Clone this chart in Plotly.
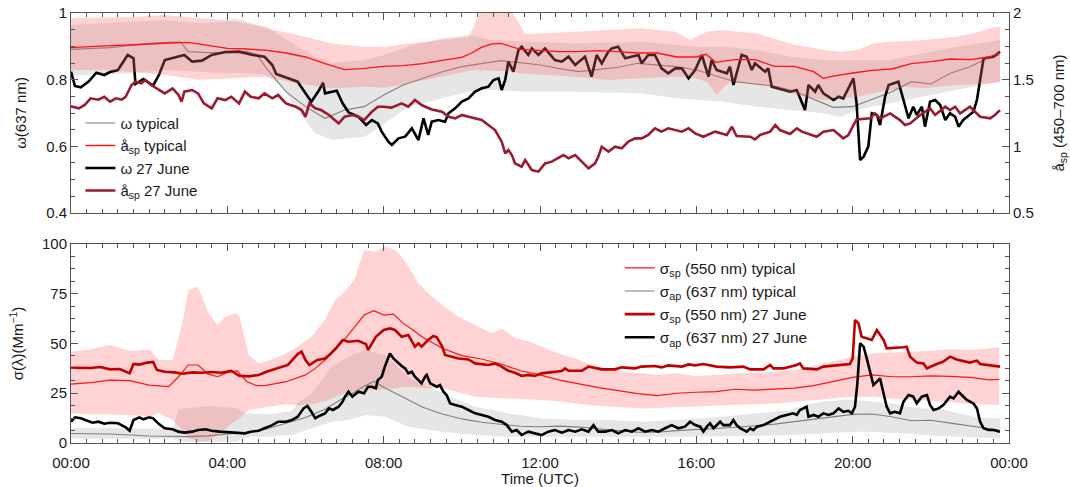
import plotly.graph_objects as go

# ---------------- DATA (hours UTC) ----------------
x_tickvals = [0, 4, 8, 12, 16, 20, 24]
x_ticktext = ["00:00", "04:00", "08:00", "12:00", "16:00", "20:00", "00:00"]

# ---- top panel: single scattering albedo (left) and scattering Angstrom exponent (right)
omega_typ_t = [0, 0.5, 1, 1.5, 2, 2.5, 2.8, 3, 3.5, 4,
               4.5, 4.75, 5, 5.5, 6, 6.5, 7, 7.5, 8, 8.5,
               9, 9.5, 10, 10.5, 11, 11.5, 12, 12.5, 13, 13.5,
               14, 14.5, 15, 15.5, 16, 16.5, 17, 17.5, 18, 18.5,
               19, 19.5, 20, 20.5, 21, 21.5, 22, 22.5, 23, 23.5,
               23.75]
omega_typ = [0.891, 0.893, 0.896, 0.903, 0.909, 0.912, 0.913, 0.884, 0.881, 0.881,
             0.884, 0.876, 0.834, 0.764, 0.719, 0.684, 0.709, 0.719, 0.754, 0.784,
             0.804, 0.824, 0.839, 0.847, 0.857, 0.851, 0.844, 0.833, 0.824, 0.831,
             0.837, 0.849, 0.844, 0.839, 0.829, 0.811, 0.794, 0.787, 0.781, 0.766,
             0.741, 0.717, 0.719, 0.741, 0.764, 0.794, 0.787, 0.819, 0.839, 0.867,
             0.874]

asp_typ_t = [0, 0.5, 1, 1.5, 2, 2.5, 3, 3.5, 4, 4.5,
             5, 5.5, 6, 6.5, 7, 7.5, 8, 8.5, 9, 9.5,
             10, 10.25, 10.5, 10.75, 11, 11.5, 12, 12.5, 13, 13.5,
             14, 14.5, 15, 15.5, 16, 16.25, 16.5, 17, 17.5, 18,
             18.5, 19, 19.25, 19.5, 20, 20.5, 21, 21.5, 22, 22.5,
             23, 23.5, 23.75]
asp_typ = [1.740, 1.750, 1.755, 1.760, 1.770, 1.775, 1.780, 1.760, 1.735, 1.730,
           1.720, 1.700, 1.670, 1.620, 1.575, 1.585, 1.600, 1.605, 1.620, 1.645,
           1.667, 1.700, 1.742, 1.767, 1.772, 1.727, 1.720, 1.710, 1.710, 1.718,
           1.710, 1.700, 1.700, 1.670, 1.670, 1.690, 1.630, 1.650, 1.650, 1.600,
           1.600, 1.560, 1.510, 1.527, 1.550, 1.570, 1.580, 1.620, 1.635, 1.655,
           1.650, 1.670, 1.700]

omega_jun_t = [0, 0.1, 0.25, 0.45, 0.65, 0.85, 1.0, 1.2, 1.45, 1.6,
               1.65, 1.85, 2.1, 2.25, 2.4, 2.75, 2.9, 3.1, 3.35, 3.6,
               3.95, 4.3, 4.65, 4.95, 5.15, 5.25, 5.55, 5.8, 6.0, 6.15,
               6.35, 6.45, 6.5, 6.8, 6.95, 7.1, 7.35, 7.55, 7.7, 7.85,
               7.95, 8.12, 8.21, 8.38, 8.55, 8.72, 8.89, 9.02, 9.14, 9.23,
               9.4, 9.57, 9.66, 9.83, 10.0, 10.17, 10.34, 10.51, 10.68, 10.81,
               10.94, 11.02, 11.11, 11.19, 11.32, 11.45, 11.53, 11.7, 11.79, 11.96,
               12.13, 12.38, 12.56, 12.73, 12.9, 13.15, 13.32, 13.45, 13.58, 13.75,
               13.84, 14.0, 14.18, 14.35, 14.52, 14.6, 14.77, 14.94, 15.11, 15.28,
               15.46, 15.63, 15.8, 15.97, 16.14, 16.31, 16.39, 16.52, 16.78, 16.86,
               16.95, 17.16, 17.29, 17.42, 17.5, 17.76, 17.84, 17.93, 18.23, 18.4,
               18.57, 18.78, 18.87, 19.04, 19.12, 19.25, 19.51, 19.64, 19.76, 19.89,
               20.02, 20.1, 20.19, 20.28, 20.4, 20.49, 20.62, 20.7, 20.83, 20.92,
               21.17, 21.3, 21.43, 21.55, 21.64, 21.77, 21.85, 21.98, 22.11, 22.24,
               22.37, 22.49, 22.62, 22.71, 22.83, 23.09, 23.18, 23.26, 23.35, 23.6,
               23.77]
omega_jun = [0.824, 0.781, 0.777, 0.794, 0.821, 0.814, 0.823, 0.829, 0.874, 0.864,
             0.787, 0.802, 0.782, 0.814, 0.859, 0.869, 0.874, 0.854, 0.857, 0.874,
             0.883, 0.884, 0.874, 0.869, 0.844, 0.817, 0.804, 0.794, 0.759, 0.734,
             0.769, 0.791, 0.759, 0.767, 0.729, 0.702, 0.689, 0.664, 0.679, 0.669,
             0.644, 0.614, 0.604, 0.624, 0.629, 0.654, 0.619, 0.684, 0.634, 0.674,
             0.679, 0.674, 0.699, 0.714, 0.734, 0.744, 0.764, 0.774, 0.779, 0.799,
             0.804, 0.769, 0.799, 0.854, 0.824, 0.889, 0.899, 0.874, 0.894, 0.874,
             0.894, 0.859, 0.854, 0.869, 0.844, 0.869, 0.809, 0.874, 0.849, 0.884,
             0.894, 0.899, 0.864, 0.869, 0.874, 0.849, 0.874, 0.874, 0.834, 0.819,
             0.834, 0.834, 0.804, 0.829, 0.874, 0.809, 0.859, 0.829, 0.819, 0.839,
             0.784, 0.874, 0.869, 0.829, 0.849, 0.824, 0.834, 0.779, 0.769, 0.764,
             0.769, 0.709, 0.784, 0.764, 0.784, 0.759, 0.739, 0.749, 0.744, 0.774,
             0.804, 0.729, 0.559, 0.569, 0.599, 0.699, 0.694, 0.664, 0.749, 0.784,
             0.794, 0.739, 0.684, 0.719, 0.694, 0.719, 0.659, 0.734, 0.739, 0.724,
             0.679, 0.699, 0.689, 0.659, 0.679, 0.704, 0.739, 0.799, 0.864, 0.869,
             0.884]

asp_jun_t = [0, 0.2, 0.35, 0.5, 0.7, 0.85, 1.0, 1.15, 1.3, 1.4,
             1.55, 1.65, 1.8, 1.9, 2.05, 2.25, 2.4, 2.6, 2.75, 2.83,
             2.9, 3.1, 3.25, 3.4, 3.6, 3.75, 3.95, 4.1, 4.3, 4.45,
             4.6, 4.8, 4.95, 5.15, 5.3, 5.5, 5.75, 5.9, 6.0, 6.1,
             6.25, 6.4, 6.6, 6.85, 7.0, 7.2, 7.35, 7.5, 7.7, 7.85,
             8.0, 8.2, 8.46, 8.63, 8.8, 8.97, 9.23, 9.49, 9.66, 9.83,
             10.0, 10.17, 10.34, 10.51, 10.68, 10.85, 11.02, 11.11, 11.19, 11.28,
             11.36, 11.53, 11.62, 11.79, 11.96, 12.13, 12.3, 12.47, 12.6, 12.73,
             12.9, 13.07, 13.24, 13.41, 13.49, 13.58, 13.75, 13.92, 14.09, 14.26,
             14.43, 14.6, 14.77, 14.94, 15.11, 15.28, 15.46, 15.63, 15.8, 15.97,
             16.18, 16.48, 16.78, 16.91, 17.03, 17.38, 17.5, 17.63, 17.89, 18.02,
             18.14, 18.4, 18.57, 18.7, 18.95, 19.08, 19.25, 19.51, 19.76, 19.89,
             20.02, 20.1, 20.45, 20.57, 20.7, 20.96, 21.21, 21.34, 21.47, 21.73,
             21.98, 22.11, 22.37, 22.49, 22.62, 22.75, 23.0, 23.13, 23.26, 23.52,
             23.64, 23.77]
asp_jun = [1.300, 1.285, 1.310, 1.360, 1.350, 1.372, 1.335, 1.360, 1.350, 1.372,
           1.460, 1.485, 1.472, 1.497, 1.460, 1.422, 1.397, 1.435, 1.385, 1.335,
           1.410, 1.422, 1.397, 1.322, 1.285, 1.360, 1.347, 1.372, 1.322, 1.410,
           1.372, 1.360, 1.397, 1.360, 1.385, 1.322, 1.297, 1.272, 1.222, 1.322,
           1.285, 1.272, 1.235, 1.172, 1.222, 1.235, 1.222, 1.197, 1.260, 1.297,
           1.297, 1.290, 1.322, 1.297, 1.347, 1.310, 1.277, 1.260, 1.222, 1.210,
           1.235, 1.222, 1.210, 1.197, 1.160, 1.122, 1.035, 0.947, 0.972, 0.935,
           0.872, 0.847, 0.897, 0.822, 0.810, 0.872, 0.885, 0.910, 0.935, 0.910,
           0.935, 0.885, 0.835, 0.872, 0.922, 0.997, 0.960, 0.997, 0.985, 1.035,
           1.060, 1.060, 1.085, 1.135, 1.110, 1.135, 1.122, 1.110, 1.135, 1.097,
           1.072, 1.110, 1.085, 1.147, 1.077, 1.072, 1.052, 1.085, 1.110, 1.160,
           1.122, 1.092, 1.135, 1.110, 1.085, 1.072, 1.110, 1.122, 1.060, 1.085,
           1.160, 1.202, 1.210, 1.247, 1.210, 1.247, 1.197, 1.160, 1.172, 1.235,
           1.285, 1.235, 1.297, 1.272, 1.297, 1.247, 1.297, 1.260, 1.222, 1.210,
           1.235, 1.272]

# typical-day spread (shaded ranges)
asp_band_t = [0, 0.7, 1.55, 2.4, 3.26, 4.0, 4.54, 5.0, 5.8, 6.67,
              7.52, 8.03, 8.63, 9.49, 10.17, 10.34, 10.45, 11.3, 11.45, 11.62,
              12.04, 12.9, 13.75, 14.6, 15.46, 15.84, 16.27, 16.52, 16.69, 16.86,
              17.55, 18.4, 19.25, 19.68, 20.1, 20.53, 20.96, 21.38, 21.81, 22.66,
              23.09, 23.52, 23.77]
asp_band_hi = [1.960, 1.967, 1.970, 1.985, 1.960, 1.947, 1.920, 1.885, 1.835, 1.772,
               1.747, 1.747, 1.772, 1.797, 1.822, 1.922, 2.000, 2.000, 1.930, 1.840,
               1.847, 1.860, 1.872, 1.885, 1.860, 1.800, 1.860, 1.865, 1.872, 1.865,
               1.847, 1.772, 1.722, 1.710, 1.722, 1.772, 1.785, 1.790, 1.797, 1.822,
               1.847, 1.885, 1.897]
asp_band_lo = [1.572, 1.572, 1.560, 1.535, 1.500, 1.510, 1.515, 1.522, 1.472, 1.435,
               1.447, 1.440, 1.472, 1.522, 1.565, 1.572, 1.570, 1.560, 1.550, 1.545,
               1.535, 1.522, 1.497, 1.510, 1.522, 1.522, 1.485, 1.385, 1.440, 1.485,
               1.472, 1.397, 1.347, 1.360, 1.372, 1.397, 1.422, 1.447, 1.435, 1.460,
               1.465, 1.472, 1.485]

omega_band_t = [0, 0.7, 1.55, 2.4, 3.26, 4.0, 4.2, 4.62, 5.0, 5.4,
                5.8, 6.24, 6.67, 7.52, 8.03, 8.63, 9.49, 10.17, 10.76, 11.62,
                12.9, 14.6, 15.46, 15.97, 16.69, 17.55, 18.4, 19.25, 19.68, 19.93,
                20.1, 20.96, 21.81, 22.66, 23.52, 23.77]
omega_band_hi = [0.964, 0.969, 0.974, 0.979, 0.969, 0.974, 0.984, 0.969, 0.959, 0.930,
                 0.899, 0.870, 0.849, 0.859, 0.875, 0.899, 0.924, 0.934, 0.919, 0.914,
                 0.909, 0.914, 0.905, 0.899, 0.899, 0.889, 0.869, 0.859, 0.859, 0.859,
                 0.859, 0.859, 0.879, 0.899, 0.914, 0.919]
omega_band_lo = [0.814, 0.814, 0.819, 0.829, 0.824, 0.819, 0.819, 0.819, 0.814, 0.779,
                 0.709, 0.639, 0.619, 0.629, 0.669, 0.719, 0.744, 0.764, 0.769, 0.764,
                 0.764, 0.759, 0.744, 0.739, 0.734, 0.719, 0.709, 0.699, 0.689, 0.699,
                 0.709, 0.729, 0.749, 0.769, 0.789, 0.794]

# ---- bottom panel: scattering (550 nm) and absorption (637 nm) coefficients, Mm-1
ssp_typ_t = [0, 0.5, 1, 1.5, 2, 2.5, 2.75, 3, 3.25, 3.5,
             3.75, 4, 4.25, 4.5, 4.75, 5, 5.5, 6, 6.25, 6.5,
             6.75, 7, 7.25, 7.5, 7.75, 8, 8.25, 8.5, 8.75, 9,
             9.5, 10, 10.5, 11, 11.5, 12, 12.5, 13, 13.5, 14,
             14.5, 15, 15.5, 16, 16.5, 17, 17.5, 18, 18.5, 19,
             19.5, 20, 20.5, 21, 21.5, 22, 22.5, 23, 23.5, 23.75]
ssp_typ = [29.6, 30.3, 31.6, 31.3, 29.1, 28.3, 33.3, 39.2, 39.2, 34.7,
           33.3, 35.5, 36.2, 30.8, 28.8, 29.0, 30.8, 34.2, 37.5, 41.7,
           46.7, 52.1, 58.1, 64.3, 66.5, 64.3, 64.8, 60.1, 56.8, 53.1,
           47.6, 43.9, 42.2, 39.7, 36.3, 34.2, 31.6, 29.6, 27.8, 26.3,
           24.8, 23.8, 25.0, 25.5, 25.8, 27.0, 26.6, 27.1, 27.6, 28.8,
           30.8, 33.0, 34.2, 33.3, 33.3, 33.7, 33.5, 33.0, 31.7, 32.0]

sap_typ_t = [0, 1, 2, 3, 3.5, 4, 4.5, 5, 5.5, 6,
             6.5, 7, 7.25, 7.5, 7.75, 8, 8.5, 9, 9.5, 10,
             10.5, 11, 11.5, 12, 12.5, 13, 13.5, 14, 14.5, 15,
             15.5, 16, 17, 18, 19, 19.5, 20, 20.5, 21, 21.5,
             22, 22.5, 23, 23.5, 23.75]
sap_typ = [4.8, 4.5, 3.5, 3.2, 3.6, 4.5, 5.4, 7.0, 10.0, 12.8,
           17.0, 23.0, 25.5, 28.5, 31.0, 28.0, 23.0, 18.0, 14.6, 12.1,
           10.4, 9.4, 8.4, 8.2, 8.5, 8.0, 7.0, 6.2, 5.4, 5.4,
           6.2, 6.7, 7.9, 9.5, 11.9, 13.2, 14.4, 14.6, 13.2, 11.2,
           11.4, 10.0, 8.5, 7.0, 6.5]

ssp_jun_t = [0, 0.25, 0.5, 0.75, 1.0, 1.25, 1.4, 1.5, 1.6, 1.75,
             1.95, 2.1, 2.2, 2.4, 2.65, 2.85, 3.1, 3.35, 3.6, 3.85,
             4.1, 4.3, 4.55, 4.8, 5.0, 5.3, 5.55, 5.8, 5.9, 6.0,
             6.1, 6.3, 6.5, 6.65, 6.8, 6.95, 7.1, 7.35, 7.55, 7.6,
             7.7, 7.8, 8.0, 8.16, 8.29, 8.46, 8.63, 8.8, 8.89, 8.97,
             9.14, 9.27, 9.36, 9.5, 9.57, 9.91, 10.17, 10.34, 10.68, 10.85,
             11.02, 11.19, 11.36, 11.53, 11.7, 11.87, 12.04, 12.38, 12.56, 12.64,
             12.73, 13.07, 13.24, 13.58, 13.92, 14.09, 14.43, 14.6, 14.94, 15.11,
             15.28, 15.63, 15.8, 15.97, 16.18, 16.52, 16.86, 17.2, 17.38, 17.72,
             17.89, 17.97, 18.23, 18.57, 18.65, 18.74, 19.08, 19.25, 19.59, 19.93,
             20.0, 20.06, 20.15, 20.23, 20.49, 20.62, 20.79, 20.87, 21.3, 21.38,
             21.47, 21.64, 21.81, 21.9, 22.15, 22.32, 22.49, 22.66, 23.0, 23.18,
             23.26, 23.77]
ssp_jun = [37.8, 37.7, 37.7, 38.2, 37.0, 37.2, 35.7, 35.0, 39.7, 39.4,
           40.4, 40.7, 36.7, 35.8, 35.5, 34.8, 35.5, 35.3, 35.7, 35.3,
           36.3, 33.8, 33.5, 34.2, 35.8, 37.5, 39.2, 44.7, 45.9, 41.7,
           39.2, 41.7, 42.5, 45.0, 48.1, 51.8, 50.9, 51.4, 49.7, 46.7,
           50.1, 53.4, 56.8, 57.6, 56.8, 53.4, 54.3, 48.4, 50.1, 48.4,
           51.8, 53.8, 53.1, 48.4, 44.2, 42.5, 42.0, 40.0, 39.2, 40.0,
           38.4, 36.3, 35.3, 33.7, 34.2, 33.7, 35.0, 35.8, 36.2, 37.5,
           36.3, 36.3, 38.4, 37.0, 37.0, 38.0, 37.5, 38.4, 38.7, 38.0,
           39.0, 38.4, 39.5, 39.0, 39.7, 38.4, 38.0, 38.4, 37.0, 37.0,
           39.2, 37.5, 37.5, 39.2, 40.0, 37.5, 37.0, 38.4, 39.2, 39.7,
           42.5, 61.8, 60.1, 53.4, 51.8, 56.8, 51.8, 47.6, 48.1, 48.4,
           43.4, 40.4, 40.0, 37.5, 39.7, 40.9, 43.4, 42.0, 40.4, 41.4,
           39.7, 38.4]

sap_jun_t = [0, 0.1, 0.25, 0.4, 0.55, 0.7, 0.85, 1.0, 1.2, 1.4,
             1.5, 1.6, 1.75, 1.85, 2.0, 2.1, 2.25, 2.4, 2.6, 2.75,
             2.9, 3.1, 3.25, 3.45, 3.6, 3.8, 4.0, 4.3, 4.45, 4.6,
             4.8, 4.95, 5.15, 5.3, 5.5, 5.65, 5.8, 5.95, 6.05, 6.15,
             6.25, 6.35, 6.5, 6.6, 6.7, 6.85, 6.95, 7.0, 7.1, 7.2,
             7.35, 7.5, 7.6, 7.7, 7.8, 7.85, 7.95, 8.03, 8.12, 8.16,
             8.25, 8.33, 8.46, 8.55, 8.63, 8.72, 8.8, 8.89, 8.97, 9.06,
             9.1, 9.19, 9.27, 9.36, 9.44, 9.53, 9.61, 9.7, 9.83, 10.0,
             10.17, 10.34, 10.51, 10.68, 10.85, 11.02, 11.15, 11.28, 11.4, 11.53,
             11.7, 11.87, 12.04, 12.21, 12.38, 12.56, 12.73, 12.9, 13.07, 13.24,
             13.37, 13.49, 13.67, 13.84, 14.0, 14.18, 14.35, 14.52, 14.69, 14.86,
             15.03, 15.2, 15.37, 15.54, 15.71, 15.84, 15.97, 16.1, 16.18, 16.27,
             16.35, 16.44, 16.52, 16.61, 16.69, 16.86, 16.95, 17.03, 17.12, 17.29,
             17.38, 17.46, 17.55, 17.72, 17.89, 18.06, 18.14, 18.31, 18.48, 18.57,
             18.65, 18.74, 18.82, 18.87, 19.0, 19.12, 19.25, 19.38, 19.51, 19.64,
             19.76, 19.89, 19.98, 20.06, 20.12, 20.19, 20.28, 20.36, 20.45, 20.53,
             20.62, 20.7, 20.79, 20.87, 20.96, 21.08, 21.21, 21.3, 21.43, 21.55,
             21.64, 21.77, 21.9, 21.98, 22.07, 22.2, 22.32, 22.41, 22.49, 22.58,
             22.71, 22.79, 22.92, 23.09, 23.18, 23.26, 23.35, 23.47, 23.6, 23.77]
sap_jun = [10.7, 12.9, 12.4, 11.2, 10.2, 10.7, 9.7, 10.2, 9.9, 7.9,
           6.2, 11.55, 12.9, 11.9, 12.9, 12.4, 9.5, 7.4, 6.9, 5.7,
           5.2, 5.7, 6.5, 6.9, 6.2, 5.7, 5.5, 5.2, 4.85, 5.7,
           6.2, 7.4, 9.0, 10.7, 10.7, 11.55, 13.2, 17.4, 18.6, 15.7,
           12.4, 13.6, 14.9, 17.4, 16.6, 18.25, 20.8, 22.9, 25.8, 23.3,
           25.8, 25.0, 28.3, 28.3, 27.5, 31.6, 33.3, 38.4, 43.4, 45.0,
           42.5, 40.9, 38.7, 37.5, 35.0, 35.8, 33.3, 31.6, 30.0, 33.3,
           34.2, 30.0, 29.1, 28.3, 29.1, 25.8, 24.1, 19.9, 19.1, 18.25,
           16.6, 14.9, 14.1, 13.2, 11.55, 10.7, 9.0, 5.7, 6.5, 4.0,
           5.7, 4.85, 4.0, 5.7, 6.5, 5.2, 6.5, 5.7, 6.9, 5.7,
           9.0, 5.7, 5.7, 6.5, 4.85, 6.5, 5.7, 7.4, 5.7, 6.5,
           5.7, 7.4, 9.0, 7.4, 8.2, 10.7, 9.0, 8.2, 5.7, 8.2,
           9.9, 7.4, 9.0, 10.7, 9.0, 9.0, 11.55, 9.0, 7.4, 5.7,
           7.4, 6.5, 8.2, 9.0, 10.7, 12.4, 13.2, 14.1, 14.9, 14.1,
           16.6, 17.4, 18.25, 13.2, 14.1, 13.2, 14.9, 14.1, 14.9, 17.4,
           15.7, 16.2, 14.9, 18.25, 30.0, 50.1, 48.4, 42.5, 35.0, 29.1,
           30.8, 32.5, 25.0, 18.25, 14.9, 15.7, 14.9, 20.8, 24.1, 23.3,
           19.9, 23.3, 24.1, 19.1, 16.6, 17.4, 19.1, 21.6, 23.3, 22.4,
           25.8, 24.1, 21.6, 19.9, 17.4, 10.7, 7.4, 6.5, 6.5, 5.7]

ssp_band_t = [0, 0.5, 1.0, 1.5, 2.0, 2.25, 2.6, 2.85, 3.0, 3.25,
              3.5, 3.75, 3.95, 4.2, 4.3, 4.55, 4.8, 5.1, 5.5, 5.8,
              6.15, 6.5, 6.75, 7.0, 7.25, 7.5, 7.8, 8.03, 8.29, 8.46,
              8.63, 8.89, 9.14, 9.5, 9.91, 10.34, 10.76, 11.02, 11.36, 11.62,
              12.04, 12.47, 12.9, 13.32, 13.75, 14.18, 14.6, 15.03, 15.46, 16.0,
              16.5, 17.0, 17.5, 18.0, 18.5, 19.0, 19.5, 20.0, 20.5, 21.0,
              21.5, 22.0, 22.5, 23.0, 23.5, 23.75]
ssp_band_hi = [45.9, 47.1, 49.2, 46.2, 47.1, 41.7, 41.7, 60.1, 76.9, 78.5,
               66.0, 59.3, 63.5, 65.2, 64.3, 44.2, 40.0, 41.7, 45.0, 48.4,
               53.4, 61.8, 71.8, 76.0, 81.9, 97.0, 96.1, 98.7, 97.0, 93.6,
               88.6, 80.2, 75.2, 69.3, 63.5, 59.3, 55.1, 57.6, 52.6, 51.8,
               48.4, 45.0, 42.5, 39.2, 37.5, 35.8, 35.0, 34.2, 35.0, 33.7,
               34.2, 35.0, 35.3, 35.8, 36.7, 38.4, 40.9, 43.4, 45.0, 45.4,
               45.9, 46.4, 47.1, 46.7, 47.6, 48.1]
ssp_band_lo = [15.0, 14.5, 14.5, 14.1, 13.5, 15.0, 11.5, 6.5, 2.5, 0.7,
               1.0, 4.0, 7.0, 11.0, 12.0, 16.6, 17.5, 18.5, 19.5, 19.0,
               19.5, 21.0, 23.0, 25.0, 26.0, 26.6, 26.6, 27.0, 27.5, 28.0,
               28.3, 28.0, 27.5, 27.5, 25.5, 23.3, 23.0, 22.8, 22.4, 22.0,
               21.6, 21.0, 19.9, 19.0, 18.25, 17.8, 17.4, 17.4, 18.0, 18.25,
               18.6, 19.1, 19.5, 19.9, 20.5, 21.6, 22.4, 23.3, 23.3, 22.4,
               21.8, 21.3, 20.5, 19.6, 19.3, 19.1]

sap_band_t = [0, 1, 2, 2.6, 2.75, 3.5, 4.25, 4.45, 5.0, 5.65,
              5.8, 6.16, 6.67, 7.1, 7.52, 8.03, 8.63, 9.5, 10.34, 11.19,
              12.04, 12.9, 13.75, 14.6, 15.46, 16.0, 16.7, 17.5, 18.4, 18.8,
              19.25, 19.7, 20.1, 20.5, 21.0, 21.4, 21.8, 22.2, 22.7, 23.1,
              23.5, 23.77]
sap_band_hi = [7.4, 7.6, 7.2, 7.0, 17.0, 18.5, 17.5, 14.9, 14.5, 16.0,
               20.0, 25.0, 38.4, 43.4, 46.7, 44.2, 33.3, 25.0, 18.25, 14.9,
               12.4, 11.55, 11.55, 10.7, 11.55, 12.4, 13.2, 14.9, 16.6, 19.1,
               20.8, 21.6, 21.6, 20.8, 19.9, 18.25, 17.4, 17.4, 14.9, 13.2,
               12.4, 12.4]
sap_band_lo = [2.3, 2.0, 2.0, 2.2, 0.8, 0.5, 0.7, 3.0, 3.2, 4.0,
               4.85, 7.4, 10.7, 11.55, 14.1, 13.2, 8.2, 5.7, 4.0, 3.2,
               3.2, 3.2, 3.2, 3.0, 3.2, 3.2, 3.3, 3.5, 4.0, 4.4,
               4.85, 5.3, 5.7, 5.5, 5.2, 4.8, 4.0, 3.6, 3.2, 2.8,
               2.5, 2.3]

# ---------------- FIGURE ----------------
FONT = "Liberation Sans, Arial, Helvetica, sans-serif"
PINK = "rgba(255,110,110,0.30)"
GREY = "rgba(150,150,150,0.24)"
AX = "#555555"

fig = go.Figure()


def add_band(t, hi, lo, color, xa, ya):
    xs = list(t) + list(t)[::-1]
    ys = list(hi) + list(lo)[::-1]
    fig.add_trace(go.Scatter(x=xs, y=ys, fill="toself", fillcolor=color,
                             line=dict(width=0), mode="lines", hoverinfo="skip",
                             showlegend=False, xaxis=xa, yaxis=ya))


# top panel bands
add_band(omega_band_t, omega_band_hi, omega_band_lo, GREY, "x2", "y2")
add_band(asp_band_t, asp_band_hi, asp_band_lo, PINK, "x2", "y3")
# bottom panel bands
add_band(sap_band_t, sap_band_hi, sap_band_lo, GREY, "x", "y")
add_band(ssp_band_t, ssp_band_hi, ssp_band_lo, PINK, "x", "y")

# top panel lines
fig.add_trace(go.Scatter(x=omega_typ_t, y=omega_typ, mode="lines", name="ω typical",
                         line=dict(color="#7f7f7f", width=1.1), xaxis="x2", yaxis="y2",
                         legend="legend", legendrank=1))
fig.add_trace(go.Scatter(x=asp_typ_t, y=asp_typ, mode="lines", name="å<sub>sp</sub> typical",
                         line=dict(color="#ff1414", width=1.3), xaxis="x2", yaxis="y3",
                         legend="legend", legendrank=2))
fig.add_trace(go.Scatter(x=asp_jun_t, y=asp_jun, mode="lines", name="å<sub>sp</sub> 27 June",
                         line=dict(color="#9b1a2e", width=2.6), xaxis="x2", yaxis="y3",
                         legend="legend", legendrank=4))
fig.add_trace(go.Scatter(x=omega_jun_t, y=omega_jun, mode="lines", name="ω 27 June",
                         line=dict(color="#000000", width=2.6), xaxis="x2", yaxis="y2",
                         legend="legend", legendrank=3))

# bottom panel lines
fig.add_trace(go.Scatter(x=ssp_typ_t, y=ssp_typ, mode="lines",
                         name="σ<sub>sp</sub> (550 nm) typical",
                         line=dict(color="#ff1414", width=1.2), xaxis="x", yaxis="y",
                         legend="legend2", legendrank=1))
fig.add_trace(go.Scatter(x=sap_typ_t, y=sap_typ, mode="lines",
                         name="σ<sub>ap</sub> (637 nm) typical",
                         line=dict(color="#7f7f7f", width=1.1), xaxis="x", yaxis="y",
                         legend="legend2", legendrank=2))
fig.add_trace(go.Scatter(x=ssp_jun_t, y=ssp_jun, mode="lines",
                         name="σ<sub>sp</sub> (550 nm) 27 June",
                         line=dict(color="#c00000", width=2.6), xaxis="x", yaxis="y",
                         legend="legend2", legendrank=3))
fig.add_trace(go.Scatter(x=sap_jun_t, y=sap_jun, mode="lines",
                         name="σ<sub>ap</sub> (637 nm) 27 June",
                         line=dict(color="#000000", width=2.6), xaxis="x", yaxis="y",
                         legend="legend2", legendrank=4))

tickfont = dict(family=FONT, size=15, color="#1a1a1a")
common = dict(showline=True, linecolor=AX, linewidth=1, ticks="inside", tickcolor=AX,
              ticklen=7, tickwidth=1, showgrid=False, zeroline=False, tickfont=tickfont,
              automargin=False)

xcommon = dict(common, range=[0, 24], tickmode="array", tickvals=x_tickvals,
               ticktext=x_ticktext, mirror="ticks",
               minor=dict(ticks="inside", ticklen=4, tickcolor=AX, tickmode="linear",
                          tick0=0, dtick=0.4, showgrid=False))

fig.update_layout(
    width=1070, height=487,
    margin=dict(l=71, r=61, t=13, b=44, autoexpand=False),
    paper_bgcolor="white", plot_bgcolor="white",
    font=dict(family=FONT, size=15, color="#1a1a1a"),
    showlegend=True,
    xaxis=dict(xcommon, anchor="y", domain=[0, 1], ticklabelstandoff=6,
               title=dict(text="Time (UTC)", font=dict(size=15), standoff=6)),
    yaxis=dict(common, domain=[0, 0.4628], range=[0, 100], tickmode="linear",
               tick0=0, dtick=25, mirror="ticks",
               minor=dict(ticks="inside", ticklen=4, tickcolor=AX, tickmode="linear",
                          tick0=0, dtick=6.25, showgrid=False),
               title=dict(text="σ(λ)(Mm<sup>−1</sup>)", font=dict(size=15), standoff=14)),
    xaxis2=dict(xcommon, anchor="y2", domain=[0, 1], showticklabels=False),
    yaxis2=dict(common, domain=[0.5349, 1], range=[0.4, 1], anchor="x2",
                tickmode="linear", tick0=0.4, dtick=0.2, mirror=True,
                minor=dict(ticks="inside", ticklen=4, tickcolor=AX, tickmode="linear",
                           tick0=0.4, dtick=0.05, showgrid=False),
                title=dict(text="ω(637 nm)", font=dict(size=15), standoff=15)),
    yaxis3=dict(common, range=[0.5, 2], anchor="x2", overlaying="y2", side="right",
                tickmode="linear", tick0=0.5, dtick=0.5,
                minor=dict(ticks="inside", ticklen=4, tickcolor=AX, tickmode="linear",
                           tick0=0.5, dtick=0.125, showgrid=False),
                title=dict(text="å<sub>sp</sub> (450–700 nm)", font=dict(size=15), standoff=20)),
    legend=dict(x=0.01, y=0.782, xanchor="left", yanchor="top", bgcolor="rgba(0,0,0,0)",
                font=dict(family=FONT, size=15, color="#1a1a1a"), tracegroupgap=0,
                itemwidth=30, traceorder="normal"),
    legend2=dict(x=0.585, y=0.446, xanchor="left", yanchor="top", bgcolor="rgba(0,0,0,0)",
                 font=dict(family=FONT, size=15.5, color="#1a1a1a"), tracegroupgap=0,
                 itemwidth=30, traceorder="normal"),
)

fig.write_html("out.html")
